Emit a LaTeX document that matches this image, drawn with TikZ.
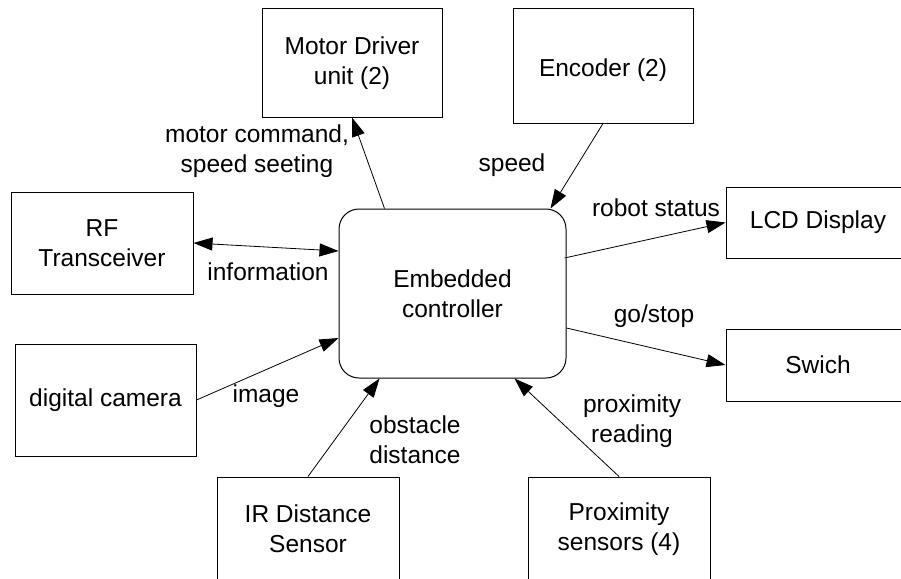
\documentclass[tikz,border=0pt]{standalone}
\usepackage{fontspec}
\setmainfont{Liberation Sans}
\usetikzlibrary{arrows.meta,calc}
\begin{document}
\begin{tikzpicture}[x=1pt,y=-1pt,
  every node/.style={font=\fontsize{24.5}{30}\selectfont},
  blk/.style={draw=black,line width=1pt,inner sep=0pt,align=center,fill=white},
  ctl/.style={blk,rounded corners=20pt},
  lbl/.style={inner sep=0pt,align=center},
  link/.style={line width=0.8pt,-{Triangle[length=19pt,width=13pt]}},
  blink/.style={line width=0.8pt,{Triangle[length=19pt,width=13pt]}-{Triangle[length=19pt,width=13pt]}}]
\useasboundingbox (0,0) rectangle (901,578);
\fill[white] (0,0) rectangle (901,578);
% blocks
\node[ctl,minimum width=227pt,minimum height=169pt] (ctrl) at (452.5,293.5) {Embedded\\controller};
\node[blk,minimum width=180pt,minimum height=108pt] (motor) at (352,63) {Motor Driver\\unit (2)};
\node[blk,minimum width=180pt,minimum height=114pt] (enc) at (603,66) {};
\node (enctext) at (603,70) {Encoder (2)};
\node[blk,minimum width=182pt,minimum height=102pt] (rf) at (102,243) {RF\\Transceiver};
\node[blk,minimum width=181pt,minimum height=112pt] (cam) at (105.5,400) {digital camera};
\node[blk,minimum width=184pt,minimum height=71pt] (lcd) at (818,222.5) {LCD Display};
\node[blk,minimum width=184pt,minimum height=72pt] (sw) at (818,365) {Swich};
\node[blk,minimum width=182pt,minimum height=104pt] (ir) at (308,529) {IR Distance\\Sensor};
\node[blk,minimum width=182pt,minimum height=104pt] (prox) at (619,529) {Proximity\\sensors (4)};
% connectors
\draw[link] ($(ctrl.north west)+(46,0)$) -- (motor.south);
\draw[link] (enc.south) -- ($(ctrl.north east)+(-16,0)$);
\draw[blink] (rf.east) -- ($(ctrl.west)+(0,-42.5)$);
\draw[link] (cam.east) -- ($(ctrl.west)+(0,44.5)$);
\draw[link] ($(ctrl.east)+(-2,-35.5)$) -- (lcd.west);
\draw[link] ($(ctrl.east)+(0,34.5)$) -- (sw.west);
\draw[link] (ir.north) -- ($(ctrl.south west)+(41,0)$);
\draw[link] (prox.north) -- ($(ctrl.south west)+(176,0)$);
% labels
\node[lbl] (lmotor) at (257,151) {motor command,\\speed seeting};
\node[lbl] (lspeed) at (512,165) {speed};
\node[lbl] (lrobot) at (656,208) {robot status};
\node[lbl] (linfo) at (268,272) {information};
\node[lbl] (limage) at (266,396) {image};
\node[lbl] (lgo) at (654,316) {go/stop};
\node[lbl] (lobst) at (415,440) {obstacle\\distance};
\node[lbl] (lprox) at (632,421) {proximity\\reading};
\end{tikzpicture}
\end{document}
